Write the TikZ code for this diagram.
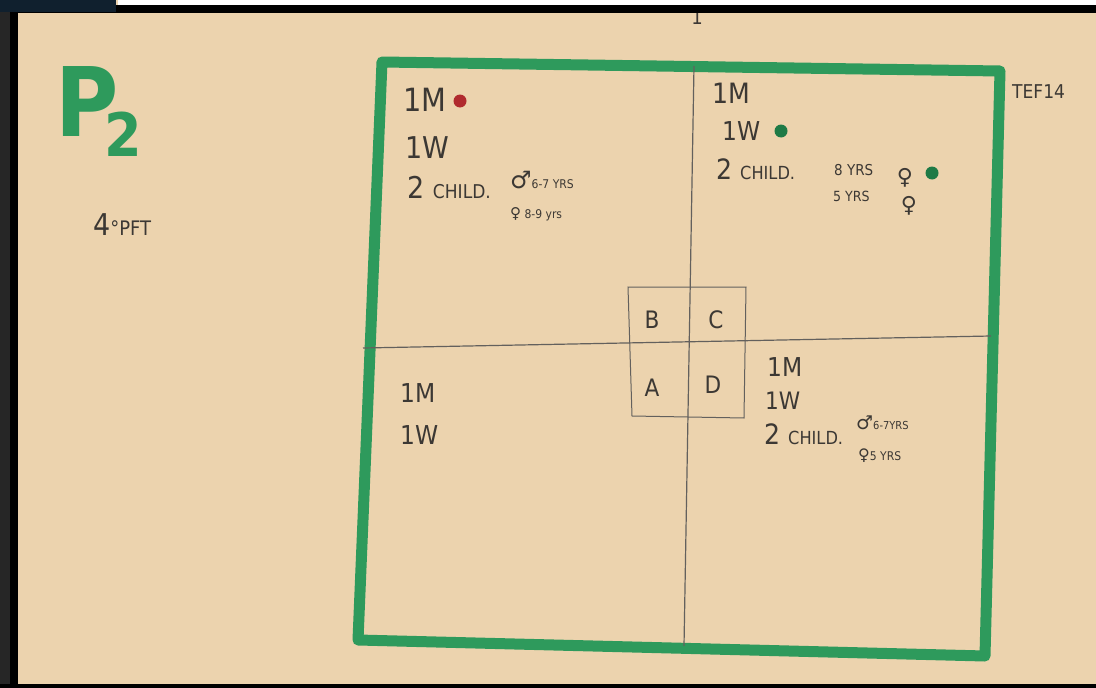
\documentclass[tikz,border=0pt]{standalone}
\usepackage{fontspec}
\setmainfont{DejaVu Sans Condensed}
\newfontfamily\symfont{DejaVu Sans}
\definecolor{paper}{HTML}{ECD3AE}
\definecolor{marker}{HTML}{2E9A5C}
\definecolor{ink}{HTML}{3C3834}
\definecolor{reddot}{HTML}{B02A2E}
\definecolor{greendot}{HTML}{1E7A46}
\definecolor{navy}{HTML}{10202E}
\tikzset{
  hand/.style={text=ink, inner sep=0pt, anchor=west},
  frame/.style={draw=marker, line width=11pt, line join=round},
  divider/.style={draw=ink!80, line width=1.2pt},
  dotmark/.style={circle, inner sep=0pt, minimum size=13pt},
  cell/.style={text=ink, inner sep=0pt, font=\fontsize{24}{24}\selectfont}
}
\newcommand{\fs}[1]{\fontsize{#1}{#1}\selectfont}
\begin{document}
\begin{tikzpicture}[x=1pt,y=-1pt]
\useasboundingbox (0,0) rectangle (1096,688);
\fill[paper] (0,0) rectangle (1096,688);
% outer square
\coordinate (tl) at (382,62);
\coordinate (tr) at (1000,71);
\coordinate (br) at (985,656);
\coordinate (bl) at (358,640);
\draw[frame] (tl) -- (tr) -- (br) -- (bl) -- cycle;
% dividers
\coordinate (vt) at (694,66);
\coordinate (vb) at (684,646);
\coordinate (hl) at (363,348);
\coordinate (hr) at (991,336);
\draw[divider] (vt) -- (vb);
\draw[divider] (hl) -- (hr);
% small grid
\coordinate (sa) at (628,287);
\coordinate (sb) at (746,287);
\coordinate (sc) at (744,418);
\coordinate (sd) at (632,416);
\draw[divider, line width=1pt] (sa) -- (sb) -- (sc) -- (sd) -- cycle;
\node[cell] (cB) at (652,320) {B};
\node[cell] (cC) at (716,320) {C};
\node[cell] (cA) at (652,388) {A};
\node[cell] (cD) at (713,385) {D};
% left labels
\node[text=marker, inner sep=0pt, anchor=base west, font=\bfseries] (P) at (55,136)
  {\fs{96}P\kern-14pt\raisebox{-20pt}{\fs{60}2}};
\node[hand] (pft) at (93,225) {\fs{30}4\fs{20}°PFT};
\node[hand] (tef) at (1012,92) {\fs{19}TEF14};
\node[text=ink, inner sep=0pt, font=\fs{20}] (top1) at (697,17) {1};
% top-left quadrant
\node[hand] (tlM) at (403,100) {\fs{32}1M};
\node[dotmark, fill=reddot] (tlDot) at (460,101) {};
\node[hand] (tlW) at (405,148) {\fs{30}1W};
\node[hand] (tlC) at (407,188) {\fs{30}2 \fs{19}CHILD.};
\node[hand] (tlB) at (510,180) {{\symfont\fs{24}♂}\fs{12}6-7 YRS};
\node[hand] (tlG) at (510,214) {{\symfont\fs{15}♀}\fs{12} 8-9 yrs};
% top-right quadrant
\node[hand] (trM) at (712,93) {\fs{28}1M};
\node[hand] (trW) at (722,131) {\fs{26}1W};
\node[dotmark, fill=greendot] (trDot1) at (781,131) {};
\node[hand] (trC) at (716,169) {\fs{28}2 \fs{18}CHILD.};
\node[hand] (trG1t) at (834,170) {\fs{15}8 YRS};
\node[text=ink, inner sep=0pt, font=\symfont\fs{22}] (trG1) at (905,178) {♀};
\node[dotmark, fill=greendot] (trDot2) at (932,173) {};
\node[hand] (trG2t) at (833,196) {\fs{14}5 YRS};
\node[text=ink, inner sep=0pt, font=\symfont\fs{22}] (trG2) at (909,206) {♀};
% bottom-left quadrant
\node[hand] (blM) at (400,393) {\fs{26}1M};
\node[hand] (blW) at (400,435) {\fs{26}1W};
% bottom-right quadrant
\node[hand] (brM) at (767,367) {\fs{26}1M};
\node[hand] (brW) at (765,401) {\fs{24}1W};
\node[hand] (brC) at (764,434) {\fs{28}2 \fs{18}CHILD.};
\node[hand] (brB) at (856,423) {{\symfont\fs{19}♂}\fs{11}6-7YRS};
\node[hand] (brG) at (858,456) {{\symfont\fs{16}♀}\fs{12}5 YRS};
% photo edges
\fill[black] (10,5) rectangle (1096,13);
\fill[black] (10,5) rectangle (18,688);
\fill[black!85] (0,0) rectangle (10,688);
\fill[white] (118,0) rectangle (1096,5);
\fill[navy] (0,0) rectangle (116,12);
\fill[black] (0,684) rectangle (1096,688);
\end{tikzpicture}
\end{document}
